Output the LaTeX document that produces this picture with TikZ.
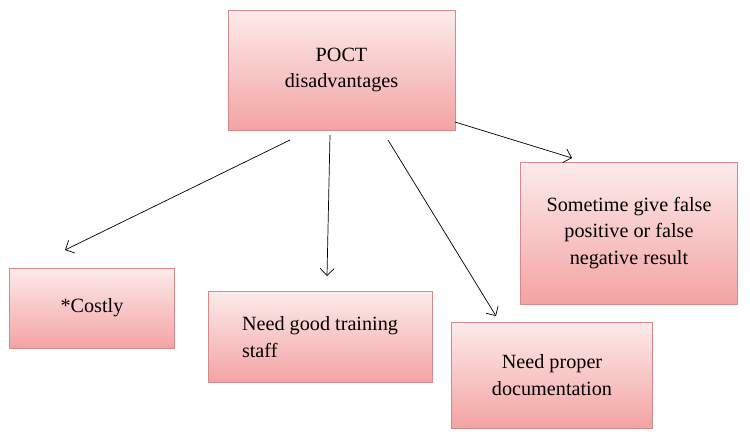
\documentclass[tikz,border=0pt]{standalone}
\usepackage{fontspec}
\setmainfont{Liberation Serif}
\usetikzlibrary{arrows.meta}
\definecolor{pinktop}{HTML}{FDEBEB}
\definecolor{pinkbot}{HTML}{F3A3A3}
\definecolor{pinkline}{HTML}{D48A8A}

\begin{document}
\begin{tikzpicture}[x=0.02cm, y=-0.02cm,
  box/.style={rectangle, draw=pinkline, top color=pinktop, bottom color=pinkbot, align=center, font=\fontsize{11.5}{15}\selectfont},
  link/.style={-{Straight Barb[length=4pt]}, thin}]
\useasboundingbox (0,0) rectangle (750,440);

% Top box
\node[box, minimum width=227*0.02cm, minimum height=120*0.02cm] (poct) at (341.5,70) {POCT\\disadvantages};

% Bottom boxes
\node[box, minimum width=165*0.02cm, minimum height=80*0.02cm] (cost) at (92,308) {*Costly};
\node[box, align=left, minimum width=224*0.02cm, minimum height=91*0.02cm] (train) at (320,337) {Need good training\\staff};
\node[box, minimum width=201*0.02cm, minimum height=106*0.02cm] (doc) at (552,375) {Need proper\\documentation};
\node[box, minimum width=217*0.02cm, minimum height=142*0.02cm] (false) at (629,233) {Sometime give false\\positive or false\\negative result};

% Arrow ends
\coordinate (s1) at (290,140); \coordinate (e1) at (65,250);
\coordinate (s2) at (330,135); \coordinate (e2) at (327,276);
\coordinate (s3) at (388,140); \coordinate (e3) at (496,316);
\coordinate (s4) at (455,122); \coordinate (e4) at (572,158);

\draw[link] (s1) -- (e1);
\draw[link] (s2) -- (e2);
\draw[link] (s3) -- (e3);
\draw[link] (s4) -- (e4);
\end{tikzpicture}
\end{document}
